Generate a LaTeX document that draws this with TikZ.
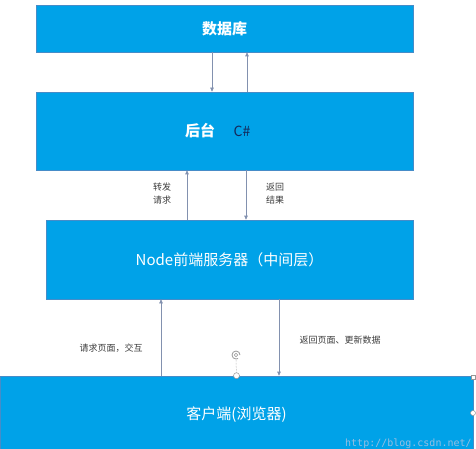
\documentclass[tikz,border=0pt]{standalone}
\usepackage{fontspec}
\setmainfont{Noto Sans CJK SC}
\newfontfamily\wmfont{DejaVu Sans Mono}
\usetikzlibrary{arrows.meta,calc}
\definecolor{boxblue}{RGB}{0,162,232}
\definecolor{boxedge}{RGB}{70,140,200}
\definecolor{arrgray}{RGB}{130,145,175}
\definecolor{labelgray}{RGB}{60,60,60}
\definecolor{navytext}{RGB}{20,40,90}
\definecolor{wmcolor}{RGB}{150,190,225}
\definecolor{handlegray}{RGB}{150,150,150}
\begin{document}
\begin{tikzpicture}[x=1pt,y=-1pt,
  box/.style={fill=boxblue,draw=boxedge,line width=0.6pt,inner sep=0pt,text=white,font=\fontsize{15}{18}\selectfont},
  boldtitle/.style={font=\fontsize{15}{18}\selectfont\bfseries},
  btext/.style={inner sep=0pt,font=\fontsize{15}{18}\selectfont},
  arr/.style={draw=arrgray,line width=0.6pt,-{Triangle[length=4pt,width=3.5pt]}},
  lbl/.style={inner sep=0pt,font=\fontsize{9}{13}\selectfont,text=labelgray,align=center},
  handle/.style={circle,draw=handlegray,fill=white,line width=0.5pt,inner sep=0pt,minimum size=6pt}]
\useasboundingbox (0,0) rectangle (476,449);
% boxes
\node[box,boldtitle,minimum width=377pt,minimum height=47pt] (db) at (224.5,28.5) {数据库};
\node[box,minimum width=377pt,minimum height=78pt] (be) at (224.5,131) {};
\node[btext,boldtitle,text=white] (beT) at (200,131) {后台};
\node[btext,text=navytext,font=\fontsize{14}{17}\selectfont] (cs) at (242,131) {C\#};
\node[box,minimum width=367pt,minimum height=79pt] (nd) at (229.5,259.5) {Node前端服务器（中间层）};
\node[box,minimum width=473pt,minimum height=78pt] (cl) at (236.5,415) {客户端(浏览器)};
% arrows db <-> backend
\draw[arr] ([xshift=-12.5pt]db.south) -- ([xshift=-12.5pt]be.north);
\draw[arr] ([xshift=22.5pt]be.north) -- ([xshift=22.5pt]db.south);
% backend <-> node
\draw[arr] ([xshift=-42.5pt]nd.north) -- ([xshift=-42.5pt]nd.north |- be.south);
\draw[arr] ([xshift=21.5pt]be.south) -- ([xshift=21.5pt]be.south |- nd.north);
% node <-> client
\draw[arr] ([xshift=-75.5pt]cl.north) -- ([xshift=-75.5pt]cl.north |- nd.south);
\draw[arr] ([xshift=49.5pt]nd.south) -- ([xshift=49.5pt]nd.south |- cl.north);
% labels
\node[lbl] (l1) at (162,193.5) {转发\\请求};
\node[lbl] (l2) at (275,193.5) {返回\\结果};
\node[lbl] (l3) at (111,348) {请求页面，交互};
\node[lbl] (l4) at (340,340) {返回页面、更新数据};
% watermark
\node[anchor=west,inner sep=0pt,text=wmcolor,font=\wmfont\fontsize{10}{12}\selectfont] (wm) at (345,444) {http://blog.csdn.net/};
% selection handles
\coordinate (rot) at (236,355);
\draw[handlegray,densely dotted,line width=0.5pt] (cl.north) -- ([yshift=-5pt]rot);
\draw[handlegray,line width=0.8pt] ([shift={(4pt,0)}]rot) arc[start angle=0,end angle=300,radius=4pt];
\draw[handlegray,line width=0.6pt] (rot) circle[radius=1.8pt];
\node[handle] (h1) at (cl.north) {};
\node[handle,minimum size=5pt] (h2) at (473,413) {};
\node[rectangle,draw=handlegray,fill=white,inner sep=0pt,minimum size=4pt,line width=0.5pt] (h3) at (473,377) {};
\end{tikzpicture}
\end{document}
